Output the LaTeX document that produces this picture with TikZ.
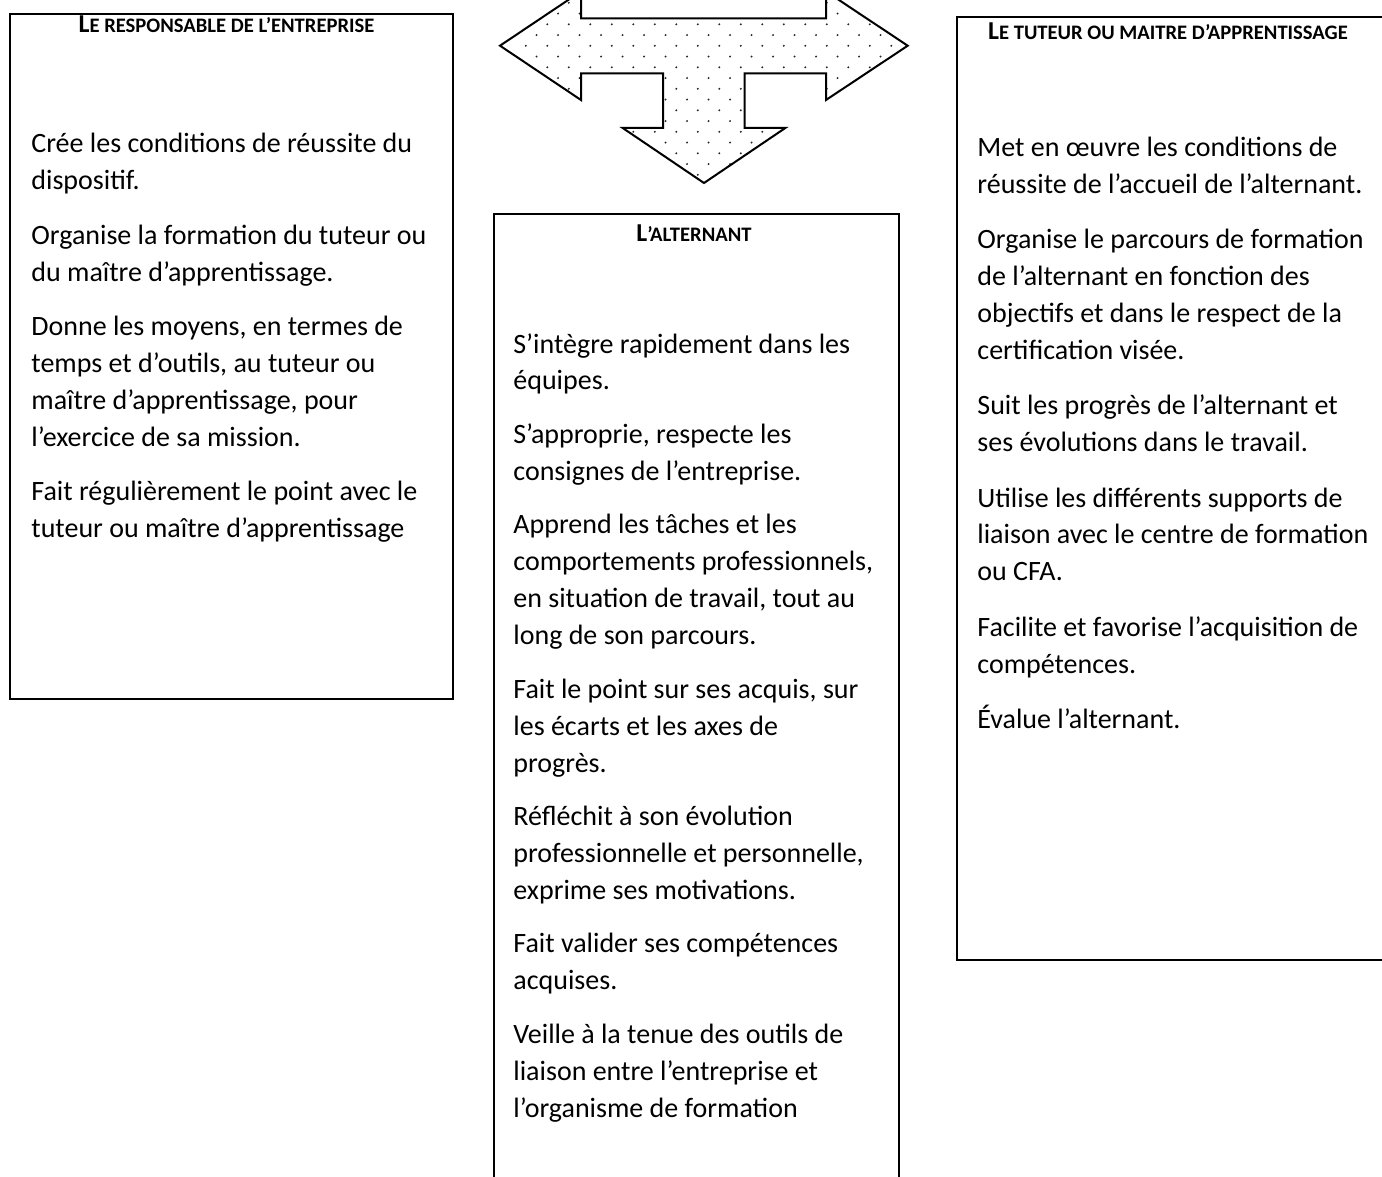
\documentclass[tikz,border=0pt]{standalone}
\usepackage{fontspec}
\setmainfont{Carlito}
\newcommand\fsc[1]{{\fontsize{10.3}{12}\selectfont #1}}
\begin{document}
\begin{tikzpicture}[x=0.5pt,y=-0.5pt,
  boxline/.style={line width=1pt},
  body/.style={anchor=base west, inner sep=0pt, align=flush left, text width=240pt, font=\fontsize{14}{18.46}\selectfont},
  head/.style={anchor=base, inner sep=0pt, font=\fontsize{12.9}{15}\selectfont\bfseries}]
\useasboundingbox (0,0) rectangle (1382,1177);
\clip (0,0) rectangle (1382,1177);

% boxes
\draw[boxline] (10,14) rectangle (453,699);
\draw[boxline] (494,214) rectangle (899,1200);
\draw[boxline] (956.7,17.3) rectangle (1390,960);

% three-way arrow
\fill[white] (500,45.7) -- (581,-8.6) -- (581,18.3) -- (826,18.3) -- (826,-8.6) -- (907.7,45.7) -- (826,100) -- (826,73.3) -- (744.7,73.3) -- (744.7,128) -- (785.3,128) -- (704,183) -- (622.7,128) -- (663,128) -- (663,73.3) -- (581,73.3) -- (581,100) -- cycle;
\begin{scope}
\clip (500,45.7) -- (581,-8.6) -- (581,18.3) -- (826,18.3) -- (826,-8.6) -- (907.7,45.7) -- (826,100) -- (826,73.3) -- (744.7,73.3) -- (744.7,128) -- (785.3,128) -- (704,183) -- (622.7,128) -- (663,128) -- (663,73.3) -- (581,73.3) -- (581,100) -- cycle;
\foreach \j in {0,...,19} {
  \foreach \k in {-1,...,20} {
    \fill[black!85] ({547.3 + \k*21.5 - mod(\j,2)*10.75}, {2.8 + \j*10.75}) circle[radius=0.55pt];
  }
}
\end{scope}
\draw[line width=1pt, line join=miter] (500,45.7) -- (581,-8.6) -- (581,18.3) -- (826,18.3) -- (826,-8.6) -- (907.7,45.7) -- (826,100) -- (826,73.3) -- (744.7,73.3) -- (744.7,128) -- (785.3,128) -- (704,183) -- (622.7,128) -- (663,128) -- (663,73.3) -- (581,73.3) -- (581,100) -- cycle;

% headers
\node[head] (hl) at (226.5,32.3) {L\fsc{E RESPONSABLE DE L’ENTREPRISE}};
\node[head] (hm) at (694,241.7) {L\fsc{’ALTERNANT}};
\node[head] (hr) at (1168,39.3) {L\fsc{E TUTEUR OU MAITRE D’APPRENTISSAGE}};

% bodies
\node[body] (bl) at (31,153) {Crée les conditions de réussite du\\ dispositif.\\[8.7pt]
Organise la formation du tuteur ou\\ du maître d’apprentissage.\\[8.7pt]
Donne les moyens, en termes de\\ temps et d’outils, au tuteur ou\\ maître d’apprentissage, pour\\ l’exercice de sa mission.\\[8.7pt]
Fait régulièrement le point avec le\\ tuteur ou maître d’apprentissage};

\node[body] (bm) at (513,353) {S’intègre rapidement dans les\\ équipes.\\[8.3pt]
S’approprie, respecte les\\ consignes de l’entreprise.\\[8.3pt]
Apprend les tâches et les\\ comportements professionnels,\\ en situation de travail, tout au\\ long de son parcours.\\[8.3pt]
Fait le point sur ses acquis, sur\\ les écarts et les axes de\\ progrès.\\[8.3pt]
Réfléchit à son évolution\\ professionnelle et personnelle,\\ exprime ses motivations.\\[8.3pt]
Fait valider ses compétences\\ acquises.\\[8.3pt]
Veille à la tenue des outils de\\ liaison entre l’entreprise et\\ l’organisme de formation};

\node[body] (br) at (977,156.5) {Met en œuvre les conditions de\\ réussite de l’accueil de l’alternant.\\[9.2pt]
Organise le parcours de formation\\ de l’alternant en fonction des\\ objectifs et dans le respect de la\\ certification visée.\\[9.2pt]
Suit les progrès de l’alternant et\\ ses évolutions dans le travail.\\[9.2pt]
Utilise les différents supports de\\ liaison avec le centre de formation\\ ou CFA.\\[9.2pt]
Facilite et favorise l’acquisition de\\ compétences.\\[9.2pt]
Évalue l’alternant.};
\end{tikzpicture}
\end{document}
